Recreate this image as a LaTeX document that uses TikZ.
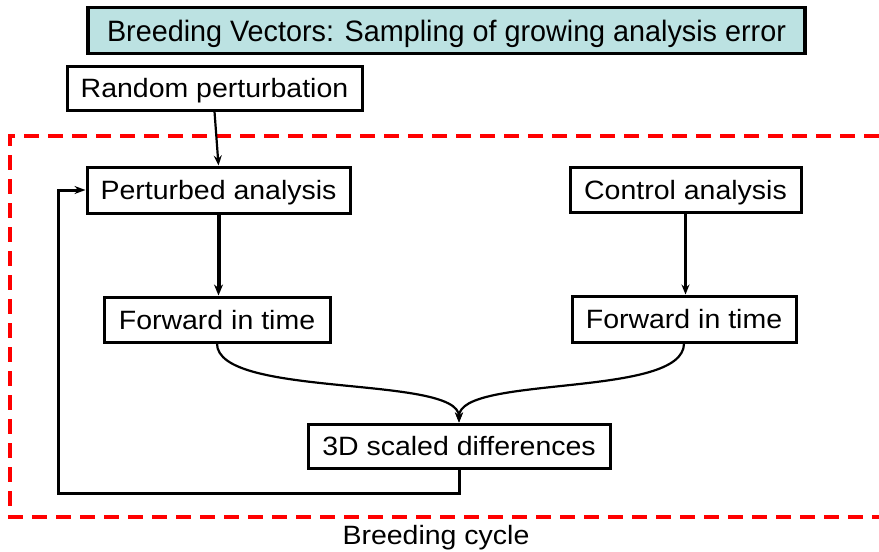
\documentclass[tikz,border=0pt]{standalone}
\usepackage{fontspec}
\setmainfont{Liberation Sans}[FakeStretch=1.075]
\newfontfamily\titlefont{Liberation Sans}[FakeStretch=0.975]
\usetikzlibrary{arrows.meta,calc}
\definecolor{titlefill}{RGB}{188,226,226}
\definecolor{cyclered}{RGB}{255,0,0}
\tikzset{
  box/.style={draw=black, line width=3pt, rectangle, inner sep=0pt, fill=white,
    text height=19pt, text depth=0pt,
    font=\fontsize{26.5}{30}\selectfont},
  titlebox/.style={draw=black, line width=3.2pt, rectangle, inner sep=0pt, fill=titlefill,
    text height=21pt, text depth=0pt,
    font=\titlefont\fontsize{29.5}{34}\selectfont},
  arr/.style={line width=2.2pt, -{Stealth[length=10pt,width=8pt]}},
  thickarr/.style={line width=4pt, -{Stealth[length=11pt,width=9pt]}},
  fbarr/.style={line width=3pt, -{Stealth[length=11pt,width=8pt]}},
  cycle/.style={draw=cyclered, line width=3.5pt, dash pattern=on 15pt off 9pt},
  lbl/.style={font=\fontsize{26.5}{30}\selectfont, inner sep=0pt}
}
\begin{document}
\begin{tikzpicture}[x=1pt,y=-1pt]
\useasboundingbox (0,0) rectangle (879,552);
% breeding cycle frame
\draw[cycle] (879,136) -- (10,136) -- (10,517) -- (879,517);
\node[lbl] (cyc) at (436,538) {Breeding cycle};
% nodes
\node[titlebox, minimum width=717pt, minimum height=46pt] (title) at (446.5,30.5) {Breeding Vectors: Sampling of growing analysis error};
\node[box, minimum width=295pt, minimum height=44pt] (rand) at (214.5,88) {Random perturbation};
\node[box, minimum width=263pt, minimum height=46pt] (pert) at (218.5,190) {Perturbed analysis};
\node[box, minimum width=231pt, minimum height=45pt] (ctrl) at (685.5,189.5) {Control analysis};
\node[box, minimum width=226pt, minimum height=45pt] (fwdL) at (217,319.5) {Forward in time};
\node[box, minimum width=224pt, minimum height=46pt] (fwdR) at (684,319) {Forward in time};
\node[box, minimum width=302pt, minimum height=44pt] (diff) at (459,446) {3D scaled differences};
\coordinate (fb) at (58,493);
% connectors
\draw[arr] (rand.south) -- (pert.north);
\draw[thickarr] (pert.south) -- (pert.south |- fwdL.north);
\draw[arr] (ctrl.south) -- (ctrl.south |- fwdR.north);
\draw[arr] (fwdL.south) .. controls ($(fwdL.south)+(0,55)$) and ($(diff.north)+(0,-48)$) .. (diff.north);
\draw[arr] (fwdR.south) .. controls ($(fwdR.south)+(0,55)$) and ($(diff.north)+(0,-48)$) .. (diff.north);
\draw[fbarr] (diff.south) |- (fb) |- (pert.west);
\end{tikzpicture}
\end{document}
